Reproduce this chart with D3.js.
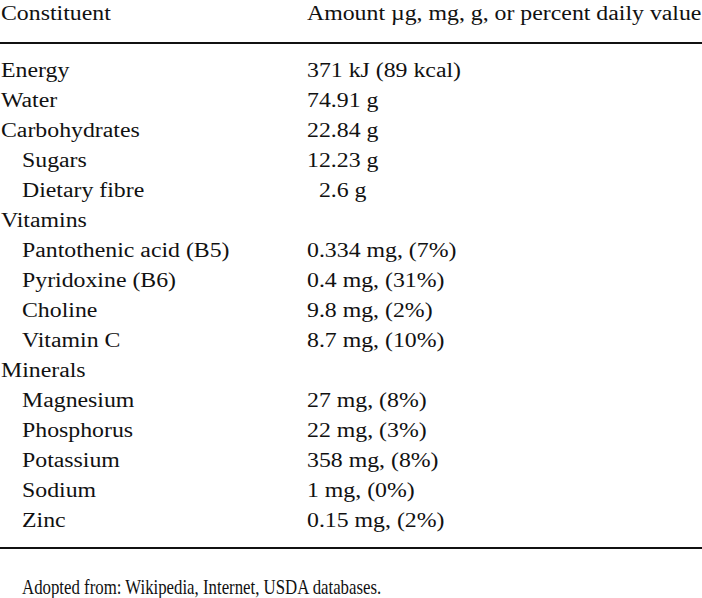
<!DOCTYPE html>
<html><head><meta charset="utf-8">
<script src="https://cdn.jsdelivr.net/npm/d3@7"></script>
<style>html,body{margin:0;padding:0;background:#fff;}svg{display:block;}</style>
</head><body>
<script>
const headers = ["Constituent", "Amount µg, mg, g, or percent daily value"];
const constituents = ["Energy","Water","Carbohydrates","Sugars","Dietary fibre","Vitamins","Pantothenic acid (B5)","Pyridoxine (B6)","Choline","Vitamin C","Minerals","Magnesium","Phosphorus","Potassium","Sodium","Zinc"];
const amounts = ["371 kJ (89 kcal)","74.91 g","22.84 g","12.23 g","\u20022.6 g","","0.334 mg, (7%)","0.4 mg, (31%)","9.8 mg, (2%)","8.7 mg, (10%)","","27 mg, (8%)","22 mg, (3%)","358 mg, (8%)","1 mg, (0%)","0.15 mg, (2%)"];
const indentLevels = [0,0,0,1,1,0,1,1,1,1,0,1,1,1,1,1];
const footnote = "Adopted from: Wikipedia, Internet, USDA databases.";

const W = 702, H = 598;
const svg = d3.select("body").append("svg").attr("width", W).attr("height", H);
const font = "'Liberation Serif', 'Times New Roman', serif";
const fs = 20;
const stretch = 1.19;

function widen(sel, k) {
  sel.each(function() {
    const len = this.getComputedTextLength();
    if (len > 0) d3.select(this).attr("textLength", len * k).attr("lengthAdjust", "spacingAndGlyphs");
  });
}

const y = d3.scaleBand().domain(d3.range(constituents.length)).range([55, 535]).padding(0);
const colX = [1, 307];
const indent = 21;

svg.append("g").selectAll("text").data(headers).join("text")
  .attr("x", (d,i) => colX[i]).attr("y", 13).attr("dy", "0.35em")
  .attr("font-family", font).attr("font-size", fs).attr("fill", "#111").text(d => d)
  .call(widen, stretch);

svg.append("line").attr("x1", 0).attr("x2", W).attr("y1", 43).attr("y2", 43).attr("stroke", "#111").attr("stroke-width", 2);
svg.append("line").attr("x1", 0).attr("x2", W).attr("y1", 548).attr("y2", 548).attr("stroke", "#111").attr("stroke-width", 2);

const rows = svg.append("g").selectAll("g").data(constituents).join("g")
  .attr("transform", (d,i) => `translate(0,${y(i) + y.bandwidth()/2})`);
rows.append("text").attr("x", (d,i) => colX[0] + indentLevels[i]*indent).attr("dy", "0.35em")
  .attr("font-family", font).attr("font-size", fs).attr("fill", "#111").text(d => d)
  .call(widen, stretch);
rows.append("text").attr("x", colX[1]).attr("dy", "0.35em")
  .attr("font-family", font).attr("font-size", fs).attr("fill", "#111").text((d,i) => amounts[i])
  .call(widen, stretch);

svg.append("text").attr("x", 22).attr("y", 587).attr("dy", "0.35em")
  .attr("font-family", font).attr("font-size", 21).attr("fill", "#111").text(footnote)
  .call(widen, 0.8);
</script>
</body></html>
